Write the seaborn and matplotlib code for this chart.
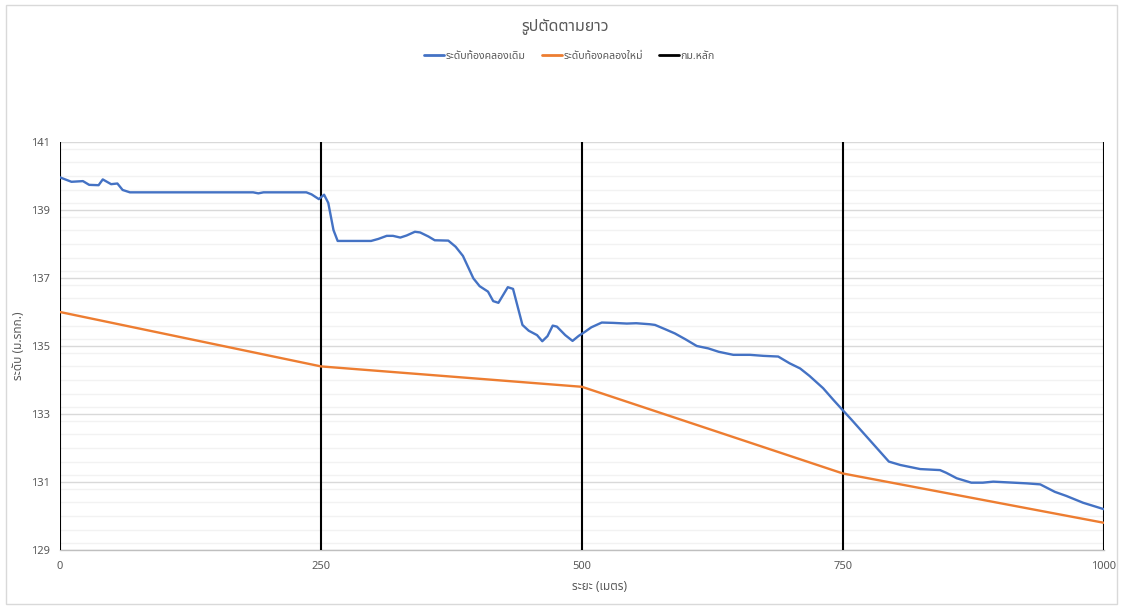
import numpy as np
import pandas as pd
import seaborn as sns
import matplotlib
matplotlib.use("Agg")
import matplotlib.pyplot as plt
from matplotlib import font_manager
from matplotlib.ft2font import FT2Font
from matplotlib.lines import Line2D
from matplotlib.patches import Rectangle
from matplotlib.ticker import MultipleLocator

# Existing canal bed profile (distance in metres, level in m MSL)
old_dist = [0, 11, 22, 28, 37, 41, 49, 55, 60, 67,
            185, 190, 195, 236, 241, 248, 253, 257, 262, 266,
            298, 305, 313, 319, 326, 332, 340, 345, 353, 359,
            372, 379, 386, 396, 402, 410, 415, 420, 429, 434,
            443, 449, 457, 462, 467, 472, 476, 484, 491, 497,
            503, 509, 519, 530, 543, 552, 565, 570, 580, 589,
            599, 610, 621, 631, 645, 661, 674, 688, 699, 709,
            718, 731, 741, 749, 758, 794, 805, 824, 843, 849,
            859, 873, 884, 894, 907, 926, 939, 953, 964, 980,
            1000]
old_level = [139.96, 139.83, 139.85, 139.74, 139.73, 139.90, 139.76, 139.78, 139.59, 139.52,
             139.52, 139.49, 139.52, 139.52, 139.46, 139.32, 139.45, 139.21, 138.41, 138.09,
             138.09, 138.15, 138.24, 138.24, 138.19, 138.25, 138.36, 138.34, 138.22, 138.11,
             138.10, 137.92, 137.65, 136.99, 136.76, 136.60, 136.32, 136.27, 136.73, 136.68,
             135.62, 135.45, 135.32, 135.14, 135.29, 135.60, 135.57, 135.32, 135.15, 135.30,
             135.42, 135.55, 135.69, 135.68, 135.66, 135.67, 135.64, 135.62, 135.49, 135.37,
             135.20, 135.00, 134.93, 134.83, 134.74, 134.74, 134.71, 134.69, 134.49, 134.34,
             134.12, 133.76, 133.41, 133.14, 132.84, 131.60, 131.50, 131.38, 131.35, 131.27,
             131.11, 130.98, 130.98, 131.01, 130.99, 130.96, 130.93, 130.71, 130.59, 130.39,
             130.20]

# Design canal bed
new_dist = [0, 250, 500, 750, 1000]
new_level = [136.0, 134.4, 133.8, 131.25, 129.8]

# Kilometre marker posts
km_posts = [0, 250, 500, 750, 1000]

series_names = ["ระดับท้องคลองเดิม", "ระดับท้องคลองใหม่", "กม.หลัก"]
title_text = "รูปตัดตามยาว"
x_label = "ระยะ (เมตร)"
y_label = "ระดับ (ม.รทก.)"
x_ticks = [0, 250, 500, 750, 1000]
y_ticks = [129, 131, 133, 135, 137, 139, 141]

sns.set_theme(style="white")


def thai_family():
    """Pick an installed family that has Thai glyphs."""
    preferred = ["Noto Sans Thai", "Noto Sans Thai UI", "Tahoma", "Loma", "Garuda",
                 "Sarabun", "TH Sarabun New", "Waree", "Norasi", "Kinnari"]
    found = []
    for f in font_manager.fontManager.ttflist:
        try:
            if 0x0E23 in FT2Font(f.fname).get_charmap():
                found.append(f.name)
        except Exception:
            pass
    for p in preferred:
        if p in found:
            return p
    return found[0] if found else None


thai = thai_family()
families = ([thai] if thai else []) + ["DejaVu Sans"]
plt.rcParams["font.family"] = families

grey_text = "#595959"
blue = "#4472C4"
orange = "#ED7D31"

fig = plt.figure(figsize=(11.23, 6.09), dpi=100)
ax = fig.add_axes([0.0534, 0.0969, 0.9296, 0.6699])

df = pd.concat([
    pd.DataFrame({"dist": old_dist, "level": old_level, "series": series_names[0]}),
    pd.DataFrame({"dist": new_dist, "level": new_level, "series": series_names[1]}),
])

ax.set_xlim(0, 1000)
ax.set_ylim(129, 141)

ax.vlines(km_posts, 129, 141, colors="black", linewidth=1.5, zorder=3)

sns.lineplot(data=df, x="dist", y="level", hue="series", sort=False,
             palette={series_names[0]: blue, series_names[1]: orange},
             linewidth=1.7, legend=False, ax=ax, zorder=4)

ax.yaxis.set_minor_locator(MultipleLocator(0.4))
ax.set_yticks(y_ticks)
ax.set_xticks(x_ticks)
ax.grid(which="major", axis="y", color="#D9D9D9", linewidth=1.0, zorder=0)
ax.grid(which="minor", axis="y", color="#F2F2F2", linewidth=1.0, zorder=0)
ax.grid(which="major", axis="x", visible=False)
ax.set_axisbelow(True)

for s in ["top", "right", "left"]:
    ax.spines[s].set_visible(False)
ax.spines["bottom"].set_color("#BFBFBF")
ax.spines["bottom"].set_linewidth(1.0)

ax.tick_params(axis="both", which="both", length=0, labelsize=8, colors=grey_text)
ax.tick_params(axis="x", pad=8)
ax.tick_params(axis="y", pad=7)

ax.set_xlabel(x_label, fontsize=8.5, fontweight="bold", color=grey_text)
ax.set_ylabel(y_label, fontsize=8.5, fontweight="bold", color=grey_text)
ax.xaxis.set_label_coords(0.5164, -0.0735)
ax.yaxis.set_label_coords(-0.0335, 0.5)

fig.text(0.503, 0.955, title_text, ha="center", va="center", fontsize=11.5, color=grey_text)

handles = [Line2D([], [], color=blue, linewidth=2),
           Line2D([], [], color=orange, linewidth=2),
           Line2D([], [], color="black", linewidth=2)]
fig.legend(handles, series_names, loc="center", bbox_to_anchor=(0.507, 0.908), ncol=3,
           frameon=False, fontsize=7.6, labelcolor=grey_text, handlelength=1.9,
           handletextpad=0.15, columnspacing=1.5)

fig.add_artist(Rectangle((0.005, 0.008), 0.99, 0.984, transform=fig.transFigure,
                         fill=False, edgecolor="#D9D9D9", linewidth=1.0))

fig.savefig("out.png", dpi=100, facecolor="white")
